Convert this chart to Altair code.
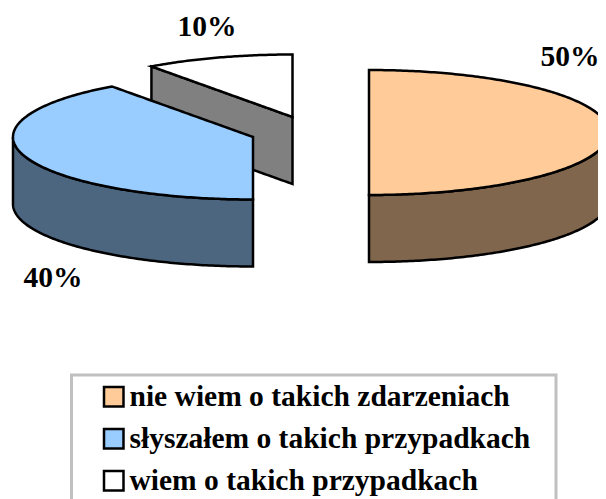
import numpy as np
import pandas as pd
import altair as alt

labels = ["nie wiem o takich zdarzeniach", "słyszałem o takich przypadkach", "wiem o takich przypadkach"]
shares = [50, 40, 10]
top_colors = ["#FFCC99", "#99CCFF", "#FFFFFF"]
wall_colors = ["#80664D", "#4D6680", "#808080"]
label_x = [570, 53, 207]
label_y = [57, 278, 27]

RX, RY, DEPTH = 240.0, 62.5, 67.0
C_ORANGE = (369.0, 132.5)
C_BLUE = (253.0, 137.0)
C_WHITE = (292.5, 117.0)
FONT = "Liberation Serif"

# cumulative clockwise angles from 12 o'clock, from the shares
edge = np.radians(np.cumsum(shares) * 3.6)


def ell(x, c, sign):
    return c[1] + sign * RY * np.sqrt(np.clip(1 - ((x - c[0]) / RX) ** 2, 0, 1))


def chord(x, c, xe):
    ye = c[1] - RY * np.cos(edge[1])
    return c[1] + (x - c[0]) * (ye - c[1]) / (xe - c[0])


t = np.radians(np.linspace(0, 90, 121))

# 50 %: right half
x0 = C_ORANGE[0] + RX * np.sin(t)
orange_top = pd.DataFrame({"x": x0, "y": ell(x0, C_ORANGE, -1), "y2": ell(x0, C_ORANGE, 1), "s": labels[0]})
orange_wall = pd.DataFrame({"x": x0, "y": ell(x0, C_ORANGE, 1), "y2": ell(x0, C_ORANGE, 1) + DEPTH})

# 40 %: lower-left part up to the edge angle
xe_b = C_BLUE[0] + RX * np.sin(edge[1])
x1 = np.sort(np.concatenate([C_BLUE[0] - RX * np.sin(t), [xe_b]]))
blue_up = np.where(x1 <= xe_b, ell(x1, C_BLUE, -1), chord(x1, C_BLUE, xe_b))
blue_top = pd.DataFrame({"x": x1, "y": blue_up, "y2": ell(x1, C_BLUE, 1), "s": labels[1]})
blue_wall = pd.DataFrame({"x": x1, "y": ell(x1, C_BLUE, 1), "y2": ell(x1, C_BLUE, 1) + DEPTH})

# 10 %: upper sector
xe_w = C_WHITE[0] + RX * np.sin(edge[1])
x2 = np.linspace(xe_w, C_WHITE[0], 60)
white_low = chord(x2, C_WHITE, xe_w)
white_top = pd.DataFrame({"x": x2, "y": ell(x2, C_WHITE, -1), "y2": white_low, "s": labels[2]})
white_wall = pd.DataFrame({"x": x2, "y": white_low, "y2": white_low + DEPTH})

tops = pd.concat([orange_top, blue_top, white_top], ignore_index=True)

xs = alt.Scale(domain=[8, 598], zero=False, nice=False)
ys = alt.Scale(domain=[8, 499], reverse=True, zero=False, nice=False)
X = alt.X("x:Q", scale=xs, axis=None)
Y = alt.Y("y:Q", scale=ys, axis=None)
Y2 = alt.Y2("y2:Q")
LW = 2.5

box = alt.Chart(pd.DataFrame({"x": [71.5], "x2": [556], "y": [375], "y2": [520]})).mark_rect(
    fill="white", stroke="#C0C0C0", strokeWidth=3
).encode(x=X, x2="x2:Q", y=Y, y2=Y2)

walls = [
    alt.Chart(df).mark_area(fill=c, stroke="black", strokeWidth=LW, opacity=1).encode(x=X, y=Y, y2=Y2)
    for df, c in [(white_wall, wall_colors[2]), (blue_wall, wall_colors[1]), (orange_wall, wall_colors[0])]
]

top_layer = alt.Chart(tops).mark_area(stroke="black", strokeWidth=LW, opacity=1).encode(
    x=X, y=Y, y2=Y2,
    fill=alt.Fill(
        "s:N",
        scale=alt.Scale(domain=labels, range=top_colors),
        sort=labels,
        legend=alt.Legend(
            orient="none", legendX=91, legendY=374, title=None,
            symbolType="square", symbolSize=380,
            symbolStrokeColor="black", symbolStrokeWidth=LW, symbolOpacity=1,
            labelFont=FONT, labelFontWeight="bold", labelFontSize=29.5, labelColor="black",
            labelOffset=1, labelLimit=500, rowPadding=11, padding=0,
        ),
    ),
)

pct = alt.Chart(pd.DataFrame({
    "x": label_x, "y": label_y, "t": [f"{s}%" for s in shares]
})).mark_text(font=FONT, fontWeight="bold", fontSize=29.5, color="black", align="center", baseline="middle").encode(
    x=X, y=Y, text="t:N"
)

chart = alt.layer(box, *walls, top_layer, pct).properties(
    width=590, height=491,
    autosize=alt.AutoSizeParams(type="none"),
    padding=0,
    background="white",
).configure_view(stroke=None)

chart.save("out.html", embed_options={"renderer": "svg", "actions": False})
